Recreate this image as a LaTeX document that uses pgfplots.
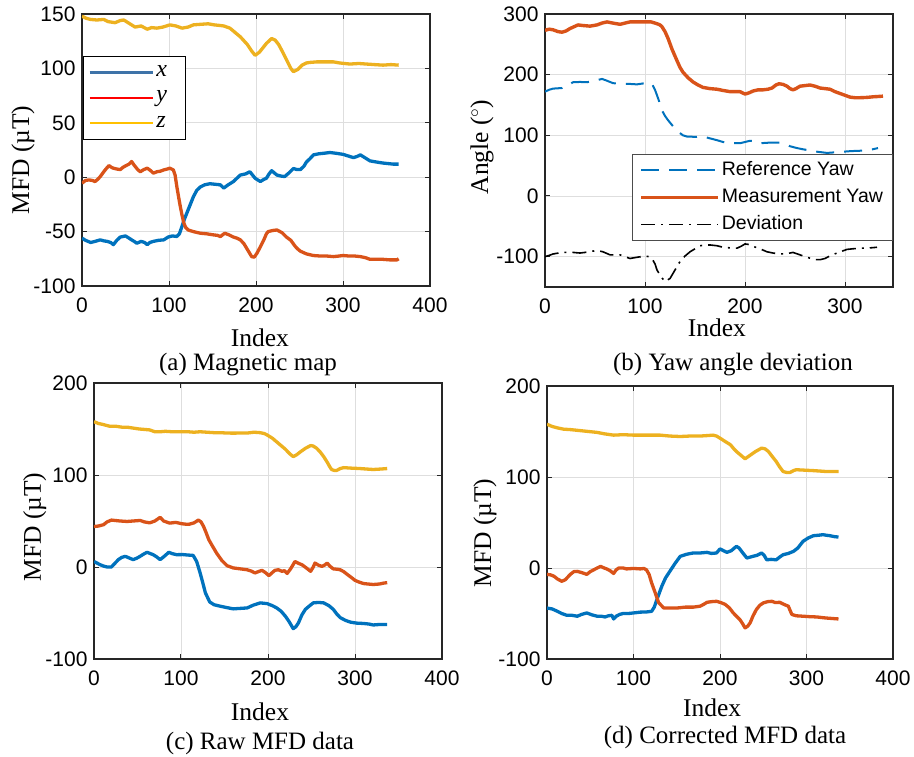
\documentclass[border=0pt]{standalone}
\usepackage{pgfplots}
\pgfplotsset{compat=1.18}
\usepackage{fontspec}
\setmainfont{Liberation Serif}
\newfontfamily\arial{Liberation Sans}
\definecolor{mblue}{RGB}{0,114,189}
\definecolor{morange}{RGB}{217,83,25}
\definecolor{myellow}{RGB}{237,177,32}
\definecolor{legx}{RGB}{62,115,168}
\definecolor{legy}{RGB}{255,0,0}
\definecolor{legz}{RGB}{255,192,0}
\pgfplotsset{
  mystyle/.style={
    scale only axis,
    axis line style={black!85, line width=1.1pt},
    tick align=inside,
    major tick length=5pt,
    tick style={black!85, line width=1pt},
    grid=major,
    major grid style={black!13, line width=0.8pt},
    /pgf/number format/assume math mode=true,
    ticklabel style={font=\arial\fontsize{21}{21}\selectfont},
    yticklabel style={xshift=-3pt},
    xticklabel style={yshift=-8pt},
    label style={font=\fontsize{25.5}{26}\selectfont},
  },
  dataline/.style={line width=3.3pt, line join=round},
}
\begin{document}
\begin{tikzpicture}
\useasboundingbox (0,0) rectangle (914pt,-757pt);
% ---------------- (a)
\begin{axis}[mystyle, at={(82pt,-14pt)}, anchor=north west, width=348pt, height=272pt,
  xmin=0, xmax=400, ymin=-100, ymax=150,
  xtick={0,100,...,400}, ytick={-100,-50,...,150},
  xlabel={Index}, ylabel={MFD (µT)},
  xlabel style={at={(axis description cs:0.511,-0.221)}, anchor=base},
  ylabel style={at={(axis description cs:-0.1695,0.463)}, anchor=center},
  legend style={at={(axis description cs:0.003,0.846)}, anchor=north west, draw=black, line width=0.9pt, fill=white,
    font=\fontsize{24}{24}\selectfont\itshape, nodes={inner sep=2pt, text height=13pt, text depth=5pt}, row sep=3.5pt, inner xsep=5pt, inner ysep=5pt},
  legend image code/.code={\draw[#1] (0pt,0pt) -- (53pt,0pt); \path (0pt,0pt) -- (63pt,0pt);},
  legend cell align=left,
]
\addplot[forget plot, dataline, color=myellow] coordinates {(0,148)(5,146)(10,145)(17,144.5)(25,145)(30,143)(38,142)(44,144)(48,144.5)(55,141)(61,138)(68,139)(75,136)(80,137.5)(86,137)(93,138)(101,140)(108,139)(115,137)(122,138)(128,140)(136,140.5)(145,141)(152,140)(158,139.5)(163,139)(170,137)(176,133)(182,129)(190,122)(195,116)(199,112)(204,115)(208,119)(212,123)(218,127.5)(222,126)(226,122)(230,116)(235,108)(240,100)(243,97)(248,99)(253,103)(258,105)(262,105.5)(270,106)(280,106)(289,106)(296,105)(308,104)(318,104.5)(327,104)(336,103.5)(346,103)(355,103.5)(364,103)};
\addplot[forget plot, dataline, color=mblue] coordinates {(0,-56)(4,-58)(10,-60)(15,-59)(21,-57.6)(25,-58.5)(29,-59)(33,-60)(36,-62)(40,-58)(44,-55)(50,-54)(54,-56)(57,-57.6)(60,-59)(63,-60.7)(68,-59)(72,-60)(75,-62)(78,-60)(82,-59)(88,-58)(94,-57.6)(99,-55)(104,-54)(109,-54.5)(112,-52)(115,-45)(118,-38)(122,-30)(125,-24)(128,-18)(132,-12)(136,-9)(141,-7)(147,-6)(153,-6.5)(159,-7)(163,-10)(168,-7)(174,-4)(178,-1)(182,2)(188,3)(193,5)(196,2)(199,-1)(203,-3)(205,-4)(209,-2)(212,-1)(215,3)(218,6)(221,4)(224,2)(229,1)(233,0.6)(238,4)(243,8)(247,7)(251,7)(255,10)(258,14)(262,17)(266,20.5)(272,21.5)(278,22)(285,22.7)(292,22)(300,21)(306,19.5)(312,18)(316,19)(320,20.5)(325,18)(331,15)(338,14)(346,13)(352,12.5)(358,12)(364,12)};
\addplot[forget plot, dataline, color=morange] coordinates {(0,-5.5)(4,-3)(8,-2.5)(12,-3)(15,-4)(18,-2)(21,0.6)(25,5)(28,8)(31,10.7)(34,9)(36,8.3)(40,7.5)(44,7)(47,9)(50,10.4)(54,12)(57,14.4)(60,11)(64,7)(67,5)(71,7)(75,8.3)(79,6)(82,3.7)(86,5)(90,5.5)(94,6.7)(98,7.5)(101,8.3)(105,6.7)(107,2)(109,-8.6)(111,-18)(113,-27)(115,-35)(117,-42)(119,-46)(122,-48.5)(128,-50)(136,-51.5)(143,-52)(151,-53)(156,-53.5)(159,-54.6)(164,-51.5)(169,-53)(174,-55)(178,-56)(182,-57.6)(186,-61)(189,-65)(192,-69)(195,-73)(198,-73.5)(201,-70)(205,-64)(209,-57.6)(212,-52)(214,-50)(219,-49)(224,-48.5)(230,-51)(235,-55)(240,-58)(245,-63.5)(248,-66)(251,-68)(258,-70.5)(266,-72)(275,-72.5)(282,-72.5)(289,-73)(295,-72.5)(300,-72)(308,-72.5)(314,-72.5)(320,-73)(326,-74)(331,-75.5)(340,-75.5)(346,-75.5)(354,-76)(362,-76)(364,-75)};
\addlegendimage{color=legx, line width=3pt}
\addlegendentry{\makebox[22pt][l]{x}}
\addlegendimage{color=legy, line width=2.3pt}
\addlegendentry{\makebox[22pt][l]{y}}
\addlegendimage{color=legz, line width=2pt}
\addlegendentry{\makebox[22pt][l]{z}}
\end{axis}
% ---------------- (b)
\begin{axis}[mystyle, at={(545pt,-14pt)}, anchor=north west, width=348pt, height=273pt,
  xmin=0, xmax=348, ymin=-150, ymax=300,
  xtick={0,100,200,300}, ytick={-100,0,100,200,300},
  xlabel={Index}, ylabel={Angle ($^{\circ}$)},
  xlabel style={at={(axis description cs:0.494,-0.183)}, anchor=base},
  ylabel style={at={(axis description cs:-0.181,0.513)}, anchor=center},
  legend style={at={(axis description cs:0.25,0.487)}, anchor=north west, draw=black!70, line width=0.9pt, fill=white,
    font=\arial\fontsize{19.5}{19.5}\selectfont, nodes={inner sep=2pt, text height=15pt, text depth=5pt}, row sep=3pt, inner xsep=7pt, inner ysep=4pt},
  legend image code/.code={\draw[#1] (0pt,0pt) -- (73pt,0pt); \path (0pt,0pt) -- (77pt,0pt);},
  legend cell align=left,
]
\addplot[color=mblue, line width=2pt, dash pattern=on 18pt off 10pt] coordinates {(0,172)(4,175)(8,177)(17,178)(22,182)(28,187.5)(35,188)(42,187.5)(50,190)(57,193)(62,190)(68,186)(75,185)(82,185)(92,184)(100,186)(104,186)(107,185)(110,175)(112,166)(115,152)(117,141)(120,132)(123,125)(128,115)(133,106)(138,100)(142,98)(150,97.5)(158,98)(165,95)(172,92)(178,89)(185,87)(195,87)(200,89)(205,91)(210,90)(215,87)(225,88)(235,88)(240,86)(245,82)(252,79)(258,77)(265,75)(272,73)(282,71)(290,72)(298,73)(306,74)(315,74.6)(325,76)(333,79)};
\addlegendentry{Reference Yaw}
\addplot[color=morange, line width=3.4pt, line join=round] coordinates {(0,273)(4,275)(8,274)(13,271)(17,270)(21,272)(25,276)(29,279)(33,282)(38,281)(45,280)(52,282)(57,285)(62,287)(68,285)(75,283)(80,285)(85,287)(92,287)(100,287)(106,287)(112,284)(115,282)(117,279)(120,271)(123,260)(127,242)(132,223)(135,212)(138,204)(143,195)(148,188)(153,183)(158,179)(165,177)(172,176)(178,174)(185,172)(195,172)(200,168)(204,170)(208,173)(213,175)(218,175)(223,176)(227,178)(231,183)(234,185)(238,184)(242,181)(245,177)(248,175)(251,177)(255,181)(260,182)(265,183)(270,181)(275,178)(280,177)(285,176)(290,172)(295,169)(300,166)(305,163)(310,162)(315,162)(322,162.5)(328,163.5)(333,164)(338,164.6)};
\addlegendentry{Measurement Yaw}
\addplot[color=black, line width=1.6pt, dash pattern=on 14pt off 6pt on 2pt off 6pt] coordinates {(0,-100)(4,-98)(8,-95.6)(17,-93)(28,-93)(35,-94)(40,-93)(47,-91)(53,-90)(58,-92)(65,-97)(70,-97)(75,-97)(80,-100)(85,-103)(92,-101)(100,-99)(104,-100)(107,-103)(110,-112)(112,-122)(116,-133)(120,-141)(125,-136)(130,-122)(135,-108)(140,-99)(145,-92)(150,-87)(155,-82)(160,-81)(165,-80.7)(172,-82)(178,-84.5)(185,-85.5)(192,-86)(196,-83)(200,-79)(204,-80)(208,-83)(215,-87)(222,-92)(228,-94)(235,-95.6)(242,-95)(248,-93)(255,-97)(262,-101)(266,-103)(270,-105)(275,-105)(280,-103)(286,-98)(292,-94)(297,-91)(302,-88)(308,-87)(315,-86)(322,-86)(332,-84.5)};
\addlegendentry{Deviation}
\end{axis}
% ---------------- (c)
\begin{axis}[mystyle, at={(94pt,-383pt)}, anchor=north west, width=348pt, height=276pt,
  xmin=0, xmax=400, ymin=-100, ymax=200,
  xtick={0,100,...,400}, ytick={-100,0,100,200},
  xlabel={Index}, ylabel={MFD (µT)},
  xlabel style={at={(axis description cs:0.477,-0.222)}, anchor=base},
  ylabel style={at={(axis description cs:-0.170,0.478)}, anchor=center},
]
\addplot[dataline, color=myellow] coordinates {(0,158)(5,156)(10,155)(18,153)(25,153)(32,152)(38,152)(45,151)(52,150)(57,149.6)(64,149)(70,147)(76,147)(82,147.5)(90,147)(99,147)(108,147)(115,146.5)(122,147)(130,146.5)(138,146)(145,146)(153,145.6)(160,145.5)(168,145.6)(176,145.6)(184,146.5)(191,146)(196,145)(199,143.5)(205,140)(210,136)(215,132)(220,128)(225,123)(229,120)(233,122)(237,125)(243,129)(249,132)(252,131.5)(256,129)(260,125)(264,120)(268,114)(271,109)(273,106)(276,105)(279,105)(283,107)(287,108)(295,107.5)(306,107)(313,106.5)(321,106)(330,106.5)(337,107)};
\addplot[dataline, color=morange] coordinates {(0,44)(5,44.5)(11,46)(15,49)(20,51)(25,50.5)(30,50)(38,49.5)(45,50)(53,50.6)(58,49)(64,48)(70,50)(76,54)(80,50)(87,47.7)(94,48.5)(101,47)(106,46.5)(110,46.6)(115,48)(120,51)(123,49)(126,44)(129,37)(132,29.6)(136,23)(141,15)(147,7)(153,1.4)(160,-1)(168,-2)(176,-3)(181,-4.5)(185,-6.5)(189,-5)(193,-3.6)(197,-6)(201,-9.4)(205,-6)(208,-3.6)(212,-3)(216,-4.7)(219,-4)(222,-7)(226,-2)(231,6)(235,4)(239,2.5)(244,-1)(249,-4.7)(252,0)(254,4.3)(258,2)(262,0.7)(265,2)(268,4.3)(271,1)(275,-2)(280,-2.5)(283,-3)(287,-5)(291,-8)(296,-11.5)(300,-14.5)(305,-16.5)(310,-18)(315,-18.5)(321,-19)(328,-18.5)(333,-17.5)(337,-17)};
\addplot[dataline, color=mblue] coordinates {(0,6)(4,4)(7,2.5)(11,1)(15,0)(20,0)(24,4)(28,8)(32,10.5)(36,11.6)(40,10)(45,8)(49,9.5)(53,11.6)(57,14)(61,16)(65,14.5)(68,13.4)(72,11)(76,8)(80,11)(86,16)(90,14.5)(95,13.4)(102,13.5)(108,13)(114,12.6)(118,6)(122,-6.5)(125,-17)(128,-28)(133,-38)(138,-41)(145,-42.6)(152,-44)(160,-45.5)(168,-45)(176,-44.5)(183,-41.5)(191,-39)(196,-39.5)(199,-39.8)(205,-42)(210,-44.5)(215,-48)(220,-53.5)(224,-59)(229,-67)(232,-65)(235,-60.7)(239,-52)(243,-46)(248,-42)(252,-39)(258,-38.5)(264,-39)(270,-42)(275,-46)(279,-51)(283,-55)(289,-58)(295,-60)(302,-61)(310,-61.4)(316,-62)(321,-63)(328,-62.5)(337,-62.5)};
\end{axis}
% ---------------- (d)
\begin{axis}[mystyle, at={(547pt,-386pt)}, anchor=north west, width=346pt, height=273pt,
  xmin=0, xmax=400, ymin=-100, ymax=200,
  xtick={0,100,...,400}, ytick={-100,0,100,200},
  xlabel={Index}, ylabel={MFD (µT)},
  xlabel style={at={(axis description cs:0.477,-0.209)}, anchor=base},
  ylabel style={at={(axis description cs:-0.179,0.4615)}, anchor=center},
]
\addplot[dataline, color=myellow] coordinates {(0,158)(6,155.5)(12,154)(19,152.6)(28,152)(38,151)(48,150)(58,149)(66,147.5)(77,146)(88,146.5)(100,146)(112,146)(122,146)(131,146)(142,145)(154,144.5)(165,145)(177,145)(185,145.5)(192,146)(196,145)(200,142.7)(206,139)(212,135.5)(216,131)(219,128)(224,124)(229,120)(235,124)(241,128)(248,131.7)(252,131)(256,128)(260,123)(265,117)(269,111)(273,106)(277,105)(281,105)(285,107)(288,108)(298,107.5)(308,107)(316,106.5)(323,106)(330,106)(337,106)};
\addplot[dataline, color=mblue] coordinates {(0,-44)(6,-45)(12,-47.6)(17,-50)(23,-52)(29,-52)(35,-53)(40,-51)(46,-49.4)(52,-51.5)(58,-53)(63,-53)(67,-53.8)(71,-52.5)(75,-52)(77,-56)(80,-53)(84,-51)(88,-50)(94,-50)(100,-49.4)(108,-48.5)(115,-48.3)(121,-47.6)(124,-43)(127,-34.8)(130,-27)(133,-19.4)(137,-11)(142,-3.7)(148,5)(154,12.8)(161,15)(169,16.5)(177,16.5)(185,17.2)(190,16)(196,16.5)(200,21)(204,19)(208,17.2)(213,19)(219,23.8)(222,22)(226,17)(231,11)(235,12)(238,12.8)(243,14)(248,16.5)(251,14)(254,9)(259,9.5)(265,9)(269,12)(273,14.6)(279,16)(285,18.3)(290,22)(296,29.3)(302,33)(308,35.5)(314,36)(319,36.6)(323,36)(327,35.5)(332,34.5)(337,34)};
\addplot[dataline, color=morange] coordinates {(0,-7)(4,-7.5)(8,-9)(12,-12)(17,-14.6)(21,-13)(24,-10)(27,-7)(31,-4)(35,-3.7)(40,-5)(46,-7)(50,-4)(54,-2)(58,0)(62,1.8)(66,0)(69,-1)(73,-3)(77,-6)(80,-2)(83,0)(88,0)(92,-1)(100,-0.5)(108,-1)(112,-0.5)(115,-2)(118,-7)(121,-16.5)(125,-27)(129,-38)(135,-44)(142,-44)(150,-44)(160,-43)(169,-43)(177,-42)(181,-40)(185,-37.7)(190,-37)(196,-36.6)(201,-38)(206,-40)(211,-44)(215,-49)(219,-53)(223,-56.7)(226,-61)(229,-65.8)(232,-64)(235,-60)(238,-53)(242,-45.7)(246,-41)(250,-38.4)(255,-37)(260,-36.6)(264,-38)(269,-37.7)(274,-40)(279,-42)(283,-51)(288,-52.5)(296,-53)(304,-53.5)(312,-53.8)(318,-54.5)(323,-55)(330,-55.5)(337,-56)};
\end{axis}
% captions
\node[anchor=base, font=\fontsize{25}{25}\selectfont] at (248pt,-370pt) {(a) Magnetic map};
\node[anchor=base, font=\fontsize{25}{25}\selectfont] at (733pt,-370pt) {(b) Yaw angle deviation};
\node[anchor=base, font=\fontsize{25}{25}\selectfont] at (260pt,-749pt) {(c) Raw MFD data};
\node[anchor=base, font=\fontsize{25}{25}\selectfont] at (725pt,-743pt) {(d) Corrected MFD data};
\end{tikzpicture}
\end{document}
